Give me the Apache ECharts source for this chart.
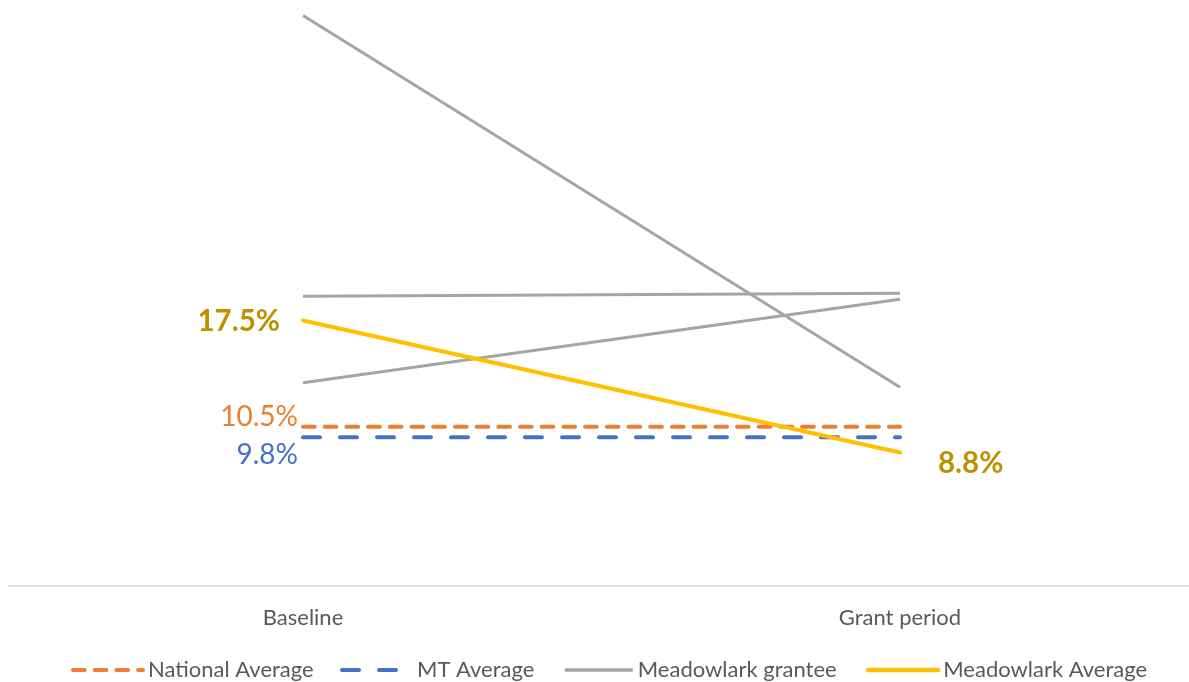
<!DOCTYPE html>
<html><head><meta charset="utf-8">
<script src="https://cdn.jsdelivr.net/npm/echarts@6/dist/echarts.min.js"></script>
<style>html,body{margin:0;padding:0;background:#fff}#c{width:1189px;height:682px}</style>
</head><body><div id="c"></div>
<script>
const categories = ['Baseline', 'Grant period'];
const nationalAvg = [10.5, 10.5];
const mtAvg = [9.8, 9.8];
const grantee1 = [37.6, 13.1];
const grantee2 = [19.1, 19.3];
const grantee3 = [13.4, 18.9];
const meadowlarkAvg = [17.5, 8.8];

const FONT = 'Lato';
const pct = v => v.toFixed(1) + '%';
const CLEAR = 'rgba(0,0,0,0)';

function labelled(values, cfgs) {
  return values.map((v, i) => cfgs[i] ? { value: v, label: Object.assign({ show: true, formatter: p => pct(p.value) }, cfgs[i]) } : v);
}

const chart = echarts.init(document.getElementById('c'), null, { renderer: 'canvas' });
const legendBase = { orient: 'horizontal', itemWidth: 70, itemHeight: 14, top: 654,
  textStyle: { fontFamily: FONT, fontSize: 22, color: '#595959' }, selectedMode: false, itemGap: 0,
  itemStyle: { color: CLEAR, borderWidth: 0 } };

function lineSeries(name, data, lineStyle) {
  return { name, type: 'line', xAxisIndex: 0, yAxisIndex: 0, symbol: 'circle', symbolSize: 2, showSymbol: true,
    lineStyle, itemStyle: { color: CLEAR, borderWidth: 0 }, emphasis: { disabled: true }, data };
}

chart.setOption({
  animation: false,
  textStyle: { fontFamily: FONT },
  grid: [
    { left: 303, right: 289, top: 9.5, bottom: 96 },
    { left: 8, right: 0, top: 9.5, bottom: 96 }
  ],
  xAxis: [
    { type: 'category', gridIndex: 0, data: categories, boundaryGap: false,
      axisLine: { show: false }, axisTick: { show: false },
      axisLabel: { color: '#595959', fontSize: 22, fontFamily: FONT, margin: 21 } },
    { type: 'category', gridIndex: 1, data: categories, boundaryGap: true,
      axisLine: { lineStyle: { color: '#d9d9d9', width: 1.5 } }, axisTick: { show: false }, axisLabel: { show: false } }
  ],
  yAxis: [
    { type: 'value', gridIndex: 0, min: 0, max: 38, show: false, splitLine: { show: false } },
    { type: 'value', gridIndex: 1, min: 0, max: 38, show: false, splitLine: { show: false } }
  ],
  legend: [
    Object.assign({}, legendBase, { left: 66, data: [{ name: 'National Average', lineStyle: { width: 4 } }] }),
    Object.assign({}, legendBase, { left: 335, data: [{ name: 'MT Average', lineStyle: { width: 4 } }] }),
    Object.assign({}, legendBase, { left: 558, itemWidth: 68, data: [{ name: 'Meadowlark grantee', lineStyle: { width: 3.5 } }] }),
    Object.assign({}, legendBase, { left: 861, data: [{ name: 'Meadowlark Average', lineStyle: { width: 4.5 } }] })
  ],
  series: [
    lineSeries('National Average',
      labelled(nationalAvg, [{ position: 'left', distance: 4, offset: [0, -10], color: '#ED7D31', fontSize: 28, fontFamily: FONT }]),
      { color: '#ED7D31', width: 4, type: [11.7, 10], cap: 'round' }),
    lineSeries('MT Average',
      labelled(mtAvg, [{ position: 'left', distance: 4, offset: [0, 18], color: '#4472C4', fontSize: 28, fontFamily: FONT }]),
      { color: '#4472C4', width: 4, type: [17, 20], cap: 'round' }),
    lineSeries('Meadowlark grantee', grantee1, { color: '#A5A5A5', width: 3 }),
    lineSeries('Meadowlark grantee', grantee2, { color: '#A5A5A5', width: 3 }),
    lineSeries('Meadowlark grantee', grantee3, { color: '#A5A5A5', width: 3 }),
    lineSeries('Meadowlark Average',
      labelled(meadowlarkAvg, [
        { position: 'left', distance: 22, offset: [0, 1], color: '#BF9000', fontSize: 29.5, fontWeight: 'bold', fontFamily: FONT },
        { position: 'right', distance: 37, offset: [0, 11], color: '#BF9000', fontSize: 29.5, fontWeight: 'bold', fontFamily: FONT }
      ]),
      { color: '#FFC000', width: 4, cap: 'round' })
  ]
});
</script></body></html>
